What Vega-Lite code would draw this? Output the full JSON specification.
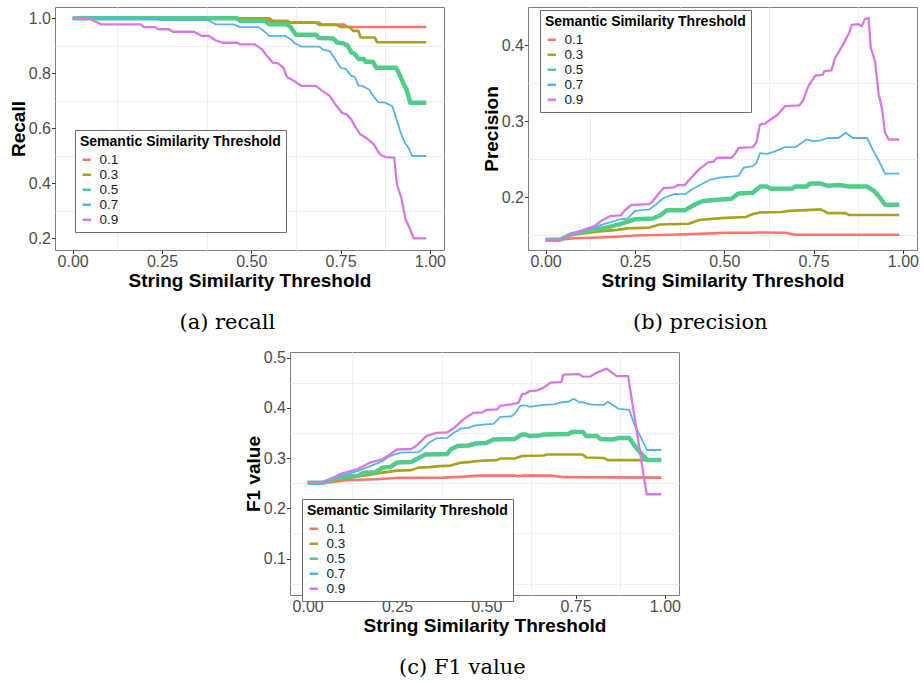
{
  "$schema": "https://vega.github.io/schema/vega-lite/v6.json",
  "padding": {"left": 8, "top": 6, "right": 0, "bottom": 0},
  "config": {
    "font": "Liberation Sans",
    "view": {"stroke": "#7F7F7F", "strokeWidth": 1},
    "axis": {
      "labelFont": "Liberation Sans", "labelFontSize": 16, "labelColor": "#4D4D4D",
      "titleFont": "Liberation Sans", "titleFontSize": 19, "titleFontWeight": "bold", "titleColor": "#000000",
      "tickColor": "#333333", "tickSize": 3.5, "labelPadding": 1, "titlePadding": 0,
      "domain": false, "gridColor": "#E4E4E4", "gridWidth": 1
    },
    "axisX": {"titlePadding": 2, "labelPadding": 0},
    "legend": {
      "titleFont": "Liberation Sans", "titleFontSize": 14, "titleFontWeight": "bold", "titleColor": "#000000", "titleLimit": 400,
      "labelFont": "Liberation Sans", "labelFontSize": 13.5, "labelColor": "#1A1A1A",
      "padding": 5, "titlePadding": 4, "rowPadding": 0, "labelOffset": 6,
      "symbolType": "stroke", "symbolSize": 70, "symbolStrokeWidth": 2.5,
      "strokeColor": "#6E6E6E", "fillColor": "#FFFFFF", "direction": "vertical"
    },
    "title": {"font": "DejaVu Serif", "fontSize": 21, "fontWeight": "normal", "color": "#000000", "anchor": "middle", "frame": "bounds"},
    "line": {"strokeCap": "butt", "strokeJoin": "round"}
  },
  "datasets": {
    "recall": [
      {"s":"0.1","x":0,"y":1},{"s":"0.1","x":0.54,"y":1},{"s":"0.1","x":0.55,"y":0.99},{"s":"0.1","x":0.6,"y":0.99},{"s":"0.1","x":0.61,"y":0.984},{"s":"0.1","x":0.69,"y":0.984},{"s":"0.1","x":0.7,"y":0.977},{"s":"0.1","x":0.76,"y":0.977},{"s":"0.1","x":0.77,"y":0.968},{"s":"0.1","x":0.99,"y":0.968},
      {"s":"0.3","x":0,"y":1},{"s":"0.3","x":0.55,"y":1},{"s":"0.3","x":0.56,"y":0.99},{"s":"0.3","x":0.6,"y":0.99},{"s":"0.3","x":0.61,"y":0.984},{"s":"0.3","x":0.68,"y":0.984},{"s":"0.3","x":0.69,"y":0.976},{"s":"0.3","x":0.74,"y":0.976},{"s":"0.3","x":0.75,"y":0.968},{"s":"0.3","x":0.775,"y":0.968},{"s":"0.3","x":0.785,"y":0.954},{"s":"0.3","x":0.8,"y":0.954},{"s":"0.3","x":0.806,"y":0.93},{"s":"0.3","x":0.846,"y":0.93},{"s":"0.3","x":0.852,"y":0.913},{"s":"0.3","x":0.99,"y":0.913},
      {"s":"0.5","x":0,"y":1},{"s":"0.5","x":0.46,"y":1},{"s":"0.5","x":0.47,"y":0.99},{"s":"0.5","x":0.54,"y":0.99},{"s":"0.5","x":0.55,"y":0.978},{"s":"0.5","x":0.6,"y":0.978},{"s":"0.5","x":0.61,"y":0.968},{"s":"0.5","x":0.625,"y":0.94},{"s":"0.5","x":0.68,"y":0.94},{"s":"0.5","x":0.69,"y":0.928},{"s":"0.5","x":0.73,"y":0.926},{"s":"0.5","x":0.74,"y":0.912},{"s":"0.5","x":0.76,"y":0.908},{"s":"0.5","x":0.77,"y":0.9},{"s":"0.5","x":0.78,"y":0.876},{"s":"0.5","x":0.79,"y":0.87},{"s":"0.5","x":0.8,"y":0.852},{"s":"0.5","x":0.815,"y":0.852},{"s":"0.5","x":0.82,"y":0.842},{"s":"0.5","x":0.84,"y":0.842},{"s":"0.5","x":0.85,"y":0.82},{"s":"0.5","x":0.905,"y":0.82},{"s":"0.5","x":0.915,"y":0.796},{"s":"0.5","x":0.925,"y":0.765},{"s":"0.5","x":0.935,"y":0.74},{"s":"0.5","x":0.945,"y":0.693},{"s":"0.5","x":0.99,"y":0.693},
      {"s":"0.7","x":0,"y":1},{"s":"0.7","x":0.24,"y":1},{"s":"0.7","x":0.245,"y":0.993},{"s":"0.7","x":0.38,"y":0.993},{"s":"0.7","x":0.4,"y":0.978},{"s":"0.7","x":0.45,"y":0.978},{"s":"0.7","x":0.47,"y":0.968},{"s":"0.7","x":0.52,"y":0.968},{"s":"0.7","x":0.535,"y":0.954},{"s":"0.7","x":0.55,"y":0.936},{"s":"0.7","x":0.595,"y":0.936},{"s":"0.7","x":0.61,"y":0.924},{"s":"0.7","x":0.62,"y":0.911},{"s":"0.7","x":0.64,"y":0.897},{"s":"0.7","x":0.69,"y":0.897},{"s":"0.7","x":0.7,"y":0.887},{"s":"0.7","x":0.72,"y":0.88},{"s":"0.7","x":0.725,"y":0.87},{"s":"0.7","x":0.735,"y":0.851},{"s":"0.7","x":0.75,"y":0.82},{"s":"0.7","x":0.765,"y":0.815},{"s":"0.7","x":0.78,"y":0.79},{"s":"0.7","x":0.79,"y":0.787},{"s":"0.7","x":0.8,"y":0.755},{"s":"0.7","x":0.81,"y":0.754},{"s":"0.7","x":0.83,"y":0.741},{"s":"0.7","x":0.84,"y":0.72},{"s":"0.7","x":0.855,"y":0.695},{"s":"0.7","x":0.875,"y":0.693},{"s":"0.7","x":0.895,"y":0.68},{"s":"0.7","x":0.908,"y":0.626},{"s":"0.7","x":0.918,"y":0.584},{"s":"0.7","x":0.93,"y":0.547},{"s":"0.7","x":0.94,"y":0.529},{"s":"0.7","x":0.95,"y":0.499},{"s":"0.7","x":0.99,"y":0.499},
      {"s":"0.9","x":0,"y":1},{"s":"0.9","x":0.045,"y":1},{"s":"0.9","x":0.06,"y":0.99},{"s":"0.9","x":0.08,"y":0.978},{"s":"0.9","x":0.19,"y":0.978},{"s":"0.9","x":0.2,"y":0.968},{"s":"0.9","x":0.23,"y":0.968},{"s":"0.9","x":0.24,"y":0.96},{"s":"0.9","x":0.27,"y":0.96},{"s":"0.9","x":0.28,"y":0.951},{"s":"0.9","x":0.34,"y":0.951},{"s":"0.9","x":0.36,"y":0.936},{"s":"0.9","x":0.38,"y":0.936},{"s":"0.9","x":0.4,"y":0.92},{"s":"0.9","x":0.42,"y":0.911},{"s":"0.9","x":0.46,"y":0.911},{"s":"0.9","x":0.47,"y":0.905},{"s":"0.9","x":0.51,"y":0.905},{"s":"0.9","x":0.53,"y":0.887},{"s":"0.9","x":0.54,"y":0.869},{"s":"0.9","x":0.56,"y":0.839},{"s":"0.9","x":0.575,"y":0.836},{"s":"0.9","x":0.59,"y":0.82},{"s":"0.9","x":0.6,"y":0.786},{"s":"0.9","x":0.62,"y":0.772},{"s":"0.9","x":0.64,"y":0.754},{"s":"0.9","x":0.68,"y":0.754},{"s":"0.9","x":0.7,"y":0.735},{"s":"0.9","x":0.72,"y":0.717},{"s":"0.9","x":0.735,"y":0.687},{"s":"0.9","x":0.754,"y":0.656},{"s":"0.9","x":0.768,"y":0.65},{"s":"0.9","x":0.78,"y":0.632},{"s":"0.9","x":0.79,"y":0.608},{"s":"0.9","x":0.805,"y":0.578},{"s":"0.9","x":0.824,"y":0.563},{"s":"0.9","x":0.843,"y":0.541},{"s":"0.9","x":0.86,"y":0.505},{"s":"0.9","x":0.875,"y":0.495},{"s":"0.9","x":0.9,"y":0.493},{"s":"0.9","x":0.908,"y":0.395},{"s":"0.9","x":0.92,"y":0.347},{"s":"0.9","x":0.932,"y":0.268},{"s":"0.9","x":0.943,"y":0.238},{"s":"0.9","x":0.955,"y":0.199},{"s":"0.9","x":0.99,"y":0.199}
    ],
    "precision": [
      {"s":"0.1","x":0,"y":0.144},{"s":"0.1","x":0.04,"y":0.144},{"s":"0.1","x":0.08,"y":0.146},{"s":"0.1","x":0.15,"y":0.147},{"s":"0.1","x":0.2,"y":0.148},{"s":"0.1","x":0.25,"y":0.1495},{"s":"0.1","x":0.35,"y":0.1505},{"s":"0.1","x":0.45,"y":0.152},{"s":"0.1","x":0.5,"y":0.1532},{"s":"0.1","x":0.58,"y":0.1532},{"s":"0.1","x":0.6,"y":0.1535},{"s":"0.1","x":0.67,"y":0.1532},{"s":"0.1","x":0.7,"y":0.1505},{"s":"0.1","x":0.99,"y":0.1505},
      {"s":"0.3","x":0,"y":0.144},{"s":"0.3","x":0.04,"y":0.144},{"s":"0.3","x":0.07,"y":0.15},{"s":"0.3","x":0.1,"y":0.152},{"s":"0.3","x":0.15,"y":0.155},{"s":"0.3","x":0.2,"y":0.157},{"s":"0.3","x":0.23,"y":0.159},{"s":"0.3","x":0.29,"y":0.16},{"s":"0.3","x":0.32,"y":0.164},{"s":"0.3","x":0.4,"y":0.165},{"s":"0.3","x":0.43,"y":0.17},{"s":"0.3","x":0.49,"y":0.1725},{"s":"0.3","x":0.56,"y":0.174},{"s":"0.3","x":0.58,"y":0.178},{"s":"0.3","x":0.6,"y":0.18},{"s":"0.3","x":0.66,"y":0.1805},{"s":"0.3","x":0.68,"y":0.182},{"s":"0.3","x":0.73,"y":0.183},{"s":"0.3","x":0.77,"y":0.184},{"s":"0.3","x":0.79,"y":0.179},{"s":"0.3","x":0.84,"y":0.179},{"s":"0.3","x":0.85,"y":0.1765},{"s":"0.3","x":0.99,"y":0.1765},
      {"s":"0.5","x":0,"y":0.144},{"s":"0.5","x":0.04,"y":0.144},{"s":"0.5","x":0.07,"y":0.151},{"s":"0.5","x":0.12,"y":0.156},{"s":"0.5","x":0.17,"y":0.16},{"s":"0.5","x":0.21,"y":0.165},{"s":"0.5","x":0.25,"y":0.171},{"s":"0.5","x":0.3,"y":0.172},{"s":"0.5","x":0.32,"y":0.176},{"s":"0.5","x":0.34,"y":0.183},{"s":"0.5","x":0.39,"y":0.183},{"s":"0.5","x":0.42,"y":0.191},{"s":"0.5","x":0.44,"y":0.195},{"s":"0.5","x":0.49,"y":0.197},{"s":"0.5","x":0.52,"y":0.198},{"s":"0.5","x":0.54,"y":0.205},{"s":"0.5","x":0.58,"y":0.206},{"s":"0.5","x":0.6,"y":0.214},{"s":"0.5","x":0.62,"y":0.214},{"s":"0.5","x":0.63,"y":0.211},{"s":"0.5","x":0.69,"y":0.2115},{"s":"0.5","x":0.7,"y":0.214},{"s":"0.5","x":0.73,"y":0.214},{"s":"0.5","x":0.74,"y":0.218},{"s":"0.5","x":0.77,"y":0.218},{"s":"0.5","x":0.79,"y":0.215},{"s":"0.5","x":0.82,"y":0.216},{"s":"0.5","x":0.85,"y":0.214},{"s":"0.5","x":0.9,"y":0.214},{"s":"0.5","x":0.92,"y":0.208},{"s":"0.5","x":0.935,"y":0.2},{"s":"0.5","x":0.95,"y":0.19},{"s":"0.5","x":0.99,"y":0.19},
      {"s":"0.7","x":0,"y":0.144},{"s":"0.7","x":0.04,"y":0.144},{"s":"0.7","x":0.07,"y":0.151},{"s":"0.7","x":0.12,"y":0.158},{"s":"0.7","x":0.165,"y":0.165},{"s":"0.7","x":0.21,"y":0.171},{"s":"0.7","x":0.23,"y":0.172},{"s":"0.7","x":0.25,"y":0.182},{"s":"0.7","x":0.29,"y":0.184},{"s":"0.7","x":0.305,"y":0.189},{"s":"0.7","x":0.33,"y":0.199},{"s":"0.7","x":0.36,"y":0.204},{"s":"0.7","x":0.39,"y":0.204},{"s":"0.7","x":0.41,"y":0.2105},{"s":"0.7","x":0.44,"y":0.218},{"s":"0.7","x":0.46,"y":0.223},{"s":"0.7","x":0.49,"y":0.226},{"s":"0.7","x":0.52,"y":0.227},{"s":"0.7","x":0.54,"y":0.228},{"s":"0.7","x":0.555,"y":0.239},{"s":"0.7","x":0.58,"y":0.241},{"s":"0.7","x":0.59,"y":0.245},{"s":"0.7","x":0.6,"y":0.258},{"s":"0.7","x":0.62,"y":0.257},{"s":"0.7","x":0.64,"y":0.26},{"s":"0.7","x":0.67,"y":0.266},{"s":"0.7","x":0.7,"y":0.266},{"s":"0.7","x":0.73,"y":0.276},{"s":"0.7","x":0.75,"y":0.274},{"s":"0.7","x":0.77,"y":0.275},{"s":"0.7","x":0.79,"y":0.278},{"s":"0.7","x":0.82,"y":0.278},{"s":"0.7","x":0.84,"y":0.285},{"s":"0.7","x":0.86,"y":0.278},{"s":"0.7","x":0.9,"y":0.278},{"s":"0.7","x":0.915,"y":0.263},{"s":"0.7","x":0.935,"y":0.246},{"s":"0.7","x":0.95,"y":0.231},{"s":"0.7","x":0.99,"y":0.231},
      {"s":"0.9","x":0,"y":0.144},{"s":"0.9","x":0.04,"y":0.144},{"s":"0.9","x":0.07,"y":0.151},{"s":"0.9","x":0.1,"y":0.156},{"s":"0.9","x":0.137,"y":0.162},{"s":"0.9","x":0.156,"y":0.169},{"s":"0.9","x":0.18,"y":0.175},{"s":"0.9","x":0.21,"y":0.176},{"s":"0.9","x":0.22,"y":0.182},{"s":"0.9","x":0.24,"y":0.19},{"s":"0.9","x":0.29,"y":0.191},{"s":"0.9","x":0.3,"y":0.195},{"s":"0.9","x":0.315,"y":0.204},{"s":"0.9","x":0.33,"y":0.212},{"s":"0.9","x":0.36,"y":0.213},{"s":"0.9","x":0.37,"y":0.216},{"s":"0.9","x":0.39,"y":0.216},{"s":"0.9","x":0.4,"y":0.222},{"s":"0.9","x":0.43,"y":0.237},{"s":"0.9","x":0.455,"y":0.246},{"s":"0.9","x":0.47,"y":0.247},{"s":"0.9","x":0.48,"y":0.252},{"s":"0.9","x":0.52,"y":0.252},{"s":"0.9","x":0.53,"y":0.257},{"s":"0.9","x":0.54,"y":0.265},{"s":"0.9","x":0.58,"y":0.266},{"s":"0.9","x":0.59,"y":0.272},{"s":"0.9","x":0.6,"y":0.296},{"s":"0.9","x":0.614,"y":0.297},{"s":"0.9","x":0.623,"y":0.3},{"s":"0.9","x":0.65,"y":0.309},{"s":"0.9","x":0.67,"y":0.32},{"s":"0.9","x":0.71,"y":0.321},{"s":"0.9","x":0.72,"y":0.327},{"s":"0.9","x":0.735,"y":0.346},{"s":"0.9","x":0.755,"y":0.36},{"s":"0.9","x":0.775,"y":0.361},{"s":"0.9","x":0.78,"y":0.366},{"s":"0.9","x":0.8,"y":0.367},{"s":"0.9","x":0.81,"y":0.383},{"s":"0.9","x":0.83,"y":0.399},{"s":"0.9","x":0.85,"y":0.417},{"s":"0.9","x":0.857,"y":0.427},{"s":"0.9","x":0.876,"y":0.428},{"s":"0.9","x":0.885,"y":0.425},{"s":"0.9","x":0.894,"y":0.435},{"s":"0.9","x":0.904,"y":0.436},{"s":"0.9","x":0.91,"y":0.397},{"s":"0.9","x":0.922,"y":0.379},{"s":"0.9","x":0.932,"y":0.336},{"s":"0.9","x":0.941,"y":0.318},{"s":"0.9","x":0.95,"y":0.285},{"s":"0.9","x":0.96,"y":0.276},{"s":"0.9","x":0.99,"y":0.276}
    ],
    "f1": [
      {"s":"0.1","x":0,"y":0.251},{"s":"0.1","x":0.05,"y":0.251},{"s":"0.1","x":0.11,"y":0.256},{"s":"0.1","x":0.19,"y":0.258},{"s":"0.1","x":0.25,"y":0.2605},{"s":"0.1","x":0.38,"y":0.261},{"s":"0.1","x":0.44,"y":0.263},{"s":"0.1","x":0.48,"y":0.265},{"s":"0.1","x":0.58,"y":0.265},{"s":"0.1","x":0.59,"y":0.264},{"s":"0.1","x":0.6,"y":0.265},{"s":"0.1","x":0.68,"y":0.265},{"s":"0.1","x":0.72,"y":0.262},{"s":"0.1","x":0.99,"y":0.261},
      {"s":"0.3","x":0,"y":0.251},{"s":"0.3","x":0.05,"y":0.251},{"s":"0.3","x":0.1,"y":0.259},{"s":"0.3","x":0.157,"y":0.265},{"s":"0.3","x":0.2,"y":0.27},{"s":"0.3","x":0.25,"y":0.275},{"s":"0.3","x":0.29,"y":0.276},{"s":"0.3","x":0.31,"y":0.281},{"s":"0.3","x":0.34,"y":0.282},{"s":"0.3","x":0.37,"y":0.284},{"s":"0.3","x":0.4,"y":0.285},{"s":"0.3","x":0.43,"y":0.291},{"s":"0.3","x":0.45,"y":0.292},{"s":"0.3","x":0.49,"y":0.295},{"s":"0.3","x":0.53,"y":0.296},{"s":"0.3","x":0.54,"y":0.299},{"s":"0.3","x":0.58,"y":0.299},{"s":"0.3","x":0.6,"y":0.304},{"s":"0.3","x":0.66,"y":0.305},{"s":"0.3","x":0.67,"y":0.307},{"s":"0.3","x":0.77,"y":0.307},{"s":"0.3","x":0.78,"y":0.301},{"s":"0.3","x":0.83,"y":0.3},{"s":"0.3","x":0.84,"y":0.296},{"s":"0.3","x":0.99,"y":0.296},
      {"s":"0.5","x":0,"y":0.251},{"s":"0.5","x":0.045,"y":0.251},{"s":"0.5","x":0.08,"y":0.261},{"s":"0.5","x":0.12,"y":0.264},{"s":"0.5","x":0.14,"y":0.265},{"s":"0.5","x":0.157,"y":0.271},{"s":"0.5","x":0.19,"y":0.272},{"s":"0.5","x":0.21,"y":0.281},{"s":"0.5","x":0.23,"y":0.282},{"s":"0.5","x":0.25,"y":0.291},{"s":"0.5","x":0.29,"y":0.292},{"s":"0.5","x":0.3,"y":0.296},{"s":"0.5","x":0.33,"y":0.307},{"s":"0.5","x":0.39,"y":0.308},{"s":"0.5","x":0.4,"y":0.317},{"s":"0.5","x":0.42,"y":0.324},{"s":"0.5","x":0.45,"y":0.325},{"s":"0.5","x":0.47,"y":0.329},{"s":"0.5","x":0.5,"y":0.33},{"s":"0.5","x":0.52,"y":0.337},{"s":"0.5","x":0.58,"y":0.338},{"s":"0.5","x":0.6,"y":0.347},{"s":"0.5","x":0.61,"y":0.347},{"s":"0.5","x":0.62,"y":0.344},{"s":"0.5","x":0.65,"y":0.345},{"s":"0.5","x":0.66,"y":0.347},{"s":"0.5","x":0.73,"y":0.348},{"s":"0.5","x":0.74,"y":0.352},{"s":"0.5","x":0.77,"y":0.352},{"s":"0.5","x":0.78,"y":0.344},{"s":"0.5","x":0.81,"y":0.344},{"s":"0.5","x":0.82,"y":0.338},{"s":"0.5","x":0.855,"y":0.337},{"s":"0.5","x":0.87,"y":0.34},{"s":"0.5","x":0.9,"y":0.34},{"s":"0.5","x":0.916,"y":0.324},{"s":"0.5","x":0.935,"y":0.308},{"s":"0.5","x":0.95,"y":0.296},{"s":"0.5","x":0.99,"y":0.296},
      {"s":"0.7","x":0,"y":0.251},{"s":"0.7","x":0.045,"y":0.251},{"s":"0.7","x":0.09,"y":0.264},{"s":"0.7","x":0.14,"y":0.274},{"s":"0.7","x":0.175,"y":0.284},{"s":"0.7","x":0.21,"y":0.294},{"s":"0.7","x":0.23,"y":0.304},{"s":"0.7","x":0.26,"y":0.311},{"s":"0.7","x":0.31,"y":0.312},{"s":"0.7","x":0.32,"y":0.317},{"s":"0.7","x":0.34,"y":0.331},{"s":"0.7","x":0.36,"y":0.339},{"s":"0.7","x":0.39,"y":0.34},{"s":"0.7","x":0.41,"y":0.351},{"s":"0.7","x":0.43,"y":0.359},{"s":"0.7","x":0.45,"y":0.36},{"s":"0.7","x":0.47,"y":0.365},{"s":"0.7","x":0.5,"y":0.367},{"s":"0.7","x":0.52,"y":0.368},{"s":"0.7","x":0.54,"y":0.382},{"s":"0.7","x":0.57,"y":0.383},{"s":"0.7","x":0.58,"y":0.388},{"s":"0.7","x":0.595,"y":0.404},{"s":"0.7","x":0.61,"y":0.405},{"s":"0.7","x":0.62,"y":0.402},{"s":"0.7","x":0.66,"y":0.406},{"s":"0.7","x":0.69,"y":0.407},{"s":"0.7","x":0.71,"y":0.411},{"s":"0.7","x":0.73,"y":0.412},{"s":"0.7","x":0.745,"y":0.418},{"s":"0.7","x":0.76,"y":0.411},{"s":"0.7","x":0.77,"y":0.411},{"s":"0.7","x":0.79,"y":0.407},{"s":"0.7","x":0.81,"y":0.406},{"s":"0.7","x":0.83,"y":0.406},{"s":"0.7","x":0.84,"y":0.412},{"s":"0.7","x":0.87,"y":0.398},{"s":"0.7","x":0.9,"y":0.396},{"s":"0.7","x":0.916,"y":0.364},{"s":"0.7","x":0.935,"y":0.338},{"s":"0.7","x":0.95,"y":0.316},{"s":"0.7","x":0.99,"y":0.316},
      {"s":"0.9","x":0,"y":0.251},{"s":"0.9","x":0.045,"y":0.251},{"s":"0.9","x":0.09,"y":0.268},{"s":"0.9","x":0.14,"y":0.278},{"s":"0.9","x":0.175,"y":0.291},{"s":"0.9","x":0.21,"y":0.298},{"s":"0.9","x":0.23,"y":0.307},{"s":"0.9","x":0.25,"y":0.317},{"s":"0.9","x":0.29,"y":0.318},{"s":"0.9","x":0.305,"y":0.325},{"s":"0.9","x":0.333,"y":0.344},{"s":"0.9","x":0.36,"y":0.35},{"s":"0.9","x":0.39,"y":0.351},{"s":"0.9","x":0.41,"y":0.36},{"s":"0.9","x":0.436,"y":0.377},{"s":"0.9","x":0.464,"y":0.39},{"s":"0.9","x":0.49,"y":0.391},{"s":"0.9","x":0.5,"y":0.396},{"s":"0.9","x":0.53,"y":0.397},{"s":"0.9","x":0.54,"y":0.404},{"s":"0.9","x":0.57,"y":0.407},{"s":"0.9","x":0.59,"y":0.41},{"s":"0.9","x":0.6,"y":0.427},{"s":"0.9","x":0.61,"y":0.428},{"s":"0.9","x":0.62,"y":0.433},{"s":"0.9","x":0.64,"y":0.434},{"s":"0.9","x":0.66,"y":0.44},{"s":"0.9","x":0.68,"y":0.45},{"s":"0.9","x":0.71,"y":0.451},{"s":"0.9","x":0.716,"y":0.466},{"s":"0.9","x":0.76,"y":0.467},{"s":"0.9","x":0.77,"y":0.462},{"s":"0.9","x":0.79,"y":0.462},{"s":"0.9","x":0.81,"y":0.47},{"s":"0.9","x":0.837,"y":0.478},{"s":"0.9","x":0.865,"y":0.463},{"s":"0.9","x":0.897,"y":0.463},{"s":"0.9","x":0.949,"y":0.228},{"s":"0.9","x":0.99,"y":0.228}
    ]
  },
  "spacing": 16,
  "resolve": {"scale": {"color": "independent"}, "legend": {"color": "independent"}},
  "vconcat": [
    {
      "spacing": 35,
      "resolve": {"scale": {"color": "independent"}, "legend": {"color": "independent"}},
      "hconcat": [
        {
          "width": 389, "height": 243,
          "data": {"name": "recall"},
          "title": {"text": "(a) recall", "orient": "bottom", "offset": 21},
          "layer": [
            {
              "mark": {"type": "point", "opacity": 0},
              "encoding": {
                "x": {"field": "x", "type": "quantitative", "scale": {"domain": [-0.0495, 1.0395], "nice": false, "zero": false},
                      "axis": {"orient": "top", "values": [0.125, 0.375, 0.625, 0.875], "labels": false, "ticks": false, "domain": false, "title": null, "gridColor": "#EFEFEF"}},
                "y": {"field": "y", "type": "quantitative", "scale": {"domain": [0.157, 1.041], "nice": false, "zero": false},
                      "axis": {"orient": "right", "values": [0.3, 0.5, 0.7, 0.9], "labels": false, "ticks": false, "domain": false, "title": null, "gridColor": "#EFEFEF"}}
              }
            },
            {
              "mark": {"type": "line"},
              "encoding": {
                "x": {"field": "x", "type": "quantitative", "scale": {"domain": [-0.0495, 1.0395], "nice": false, "zero": false},
                      "axis": {"orient": "bottom", "values": [0, 0.25, 0.5, 0.75, 1], "format": ".2f", "title": "String Similarity Threshold"}},
                "y": {"field": "y", "type": "quantitative", "scale": {"domain": [0.157, 1.041], "nice": false, "zero": false},
                      "axis": {"orient": "left", "values": [0.2, 0.4, 0.6, 0.8, 1.0], "format": ".1f", "title": "Recall"}},
                "color": {"field": "s", "type": "nominal",
                          "scale": {"domain": ["0.1", "0.3", "0.5", "0.7", "0.9"], "range": ["#F8766D", "#A8A21F", "#52CC8C", "#55B4E8", "#D67AE2"]},
                          "legend": {"title": "Semantic Similarity Threshold", "orient": "none", "legendX": 20, "legendY": 123}},
                "strokeWidth": {"condition": [{"test": "datum.s === '0.5'", "value": 4.5}, {"test": "datum.s === '0.7'", "value": 1.8}, {"test": "datum.s === '0.9'", "value": 2.3}], "value": 2.6}
              }
            }
          ],
          "resolve": {"axis": {"x": "independent", "y": "independent"}}
        },
        {
          "width": 389, "height": 243,
          "data": {"name": "precision"},
          "title": {"text": "(b) precision", "orient": "bottom", "offset": 21},
          "layer": [
            {
              "mark": {"type": "point", "opacity": 0},
              "encoding": {
                "x": {"field": "x", "type": "quantitative", "scale": {"domain": [-0.0495, 1.0395], "nice": false, "zero": false},
                      "axis": {"orient": "top", "values": [0.125, 0.375, 0.625, 0.875], "labels": false, "ticks": false, "domain": false, "title": null, "gridColor": "#EFEFEF"}},
                "y": {"field": "y", "type": "quantitative", "scale": {"domain": [0.1305, 0.4505], "nice": false, "zero": false},
                      "axis": {"orient": "right", "values": [0.15, 0.25, 0.35], "labels": false, "ticks": false, "domain": false, "title": null, "gridColor": "#EFEFEF"}}
              }
            },
            {
              "mark": {"type": "line"},
              "encoding": {
                "x": {"field": "x", "type": "quantitative", "scale": {"domain": [-0.0495, 1.0395], "nice": false, "zero": false},
                      "axis": {"orient": "bottom", "values": [0, 0.25, 0.5, 0.75, 1], "format": ".2f", "title": "String Similarity Threshold"}},
                "y": {"field": "y", "type": "quantitative", "scale": {"domain": [0.1305, 0.4505], "nice": false, "zero": false},
                      "axis": {"orient": "left", "values": [0.2, 0.3, 0.4], "format": ".1f", "title": "Precision"}},
                "color": {"field": "s", "type": "nominal",
                          "scale": {"domain": ["0.1", "0.3", "0.5", "0.7", "0.9"], "range": ["#F8766D", "#A8A21F", "#52CC8C", "#55B4E8", "#D67AE2"]},
                          "legend": {"title": "Semantic Similarity Threshold", "orient": "none", "legendX": 12, "legendY": 3}},
                "strokeWidth": {"condition": [{"test": "datum.s === '0.5'", "value": 4.5}, {"test": "datum.s === '0.7'", "value": 1.8}, {"test": "datum.s === '0.9'", "value": 2.3}], "value": 2.6}
              }
            }
          ],
          "resolve": {"axis": {"x": "independent", "y": "independent"}}
        }
      ]
    },
    {
      "spacing": 0,
      "resolve": {"scale": {"color": "independent"}, "legend": {"color": "independent"}},
      "hconcat": [
        {
          "width": 188, "height": 243,
          "view": {"stroke": null},
          "data": {"values": [{}]},
          "mark": {"type": "point", "opacity": 0},
          "encoding": {}
        },
        {
          "width": 389, "height": 243,
          "data": {"name": "f1"},
          "title": {"text": "(c) F1 value", "orient": "bottom", "offset": 21},
          "layer": [
            {
              "mark": {"type": "point", "opacity": 0},
              "encoding": {
                "x": {"field": "x", "type": "quantitative", "scale": {"domain": [-0.0495, 1.0395], "nice": false, "zero": false},
                      "axis": {"orient": "top", "values": [0.125, 0.375, 0.625, 0.875], "labels": false, "ticks": false, "domain": false, "title": null, "gridColor": "#EFEFEF"}},
                "y": {"field": "y", "type": "quantitative", "scale": {"domain": [0.0276, 0.511], "nice": false, "zero": false},
                      "axis": {"orient": "right", "values": [0.05, 0.15, 0.25, 0.35, 0.45], "labels": false, "ticks": false, "domain": false, "title": null, "gridColor": "#EFEFEF"}}
              }
            },
            {
              "mark": {"type": "line"},
              "encoding": {
                "x": {"field": "x", "type": "quantitative", "scale": {"domain": [-0.0495, 1.0395], "nice": false, "zero": false},
                      "axis": {"orient": "bottom", "values": [0, 0.25, 0.5, 0.75, 1], "format": ".2f", "title": "String Similarity Threshold"}},
                "y": {"field": "y", "type": "quantitative", "scale": {"domain": [0.0276, 0.511], "nice": false, "zero": false},
                      "axis": {"orient": "left", "values": [0.1, 0.2, 0.3, 0.4, 0.5], "format": ".1f", "title": "F1 value"}},
                "color": {"field": "s", "type": "nominal",
                          "scale": {"domain": ["0.1", "0.3", "0.5", "0.7", "0.9"], "range": ["#F8766D", "#A8A21F", "#52CC8C", "#55B4E8", "#D67AE2"]},
                          "legend": {"title": "Semantic Similarity Threshold", "orient": "none", "legendX": 12, "legendY": 147}},
                "strokeWidth": {"condition": [{"test": "datum.s === '0.5'", "value": 4.5}, {"test": "datum.s === '0.7'", "value": 1.8}, {"test": "datum.s === '0.9'", "value": 2.3}], "value": 2.6}
              }
            }
          ],
          "resolve": {"axis": {"x": "independent", "y": "independent"}}
        }
      ]
    }
  ]
}
